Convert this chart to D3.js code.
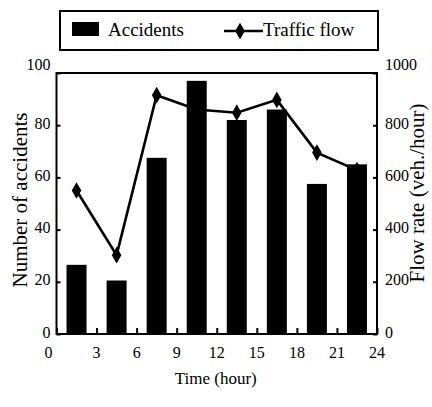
<!DOCTYPE html>
<html>
<head>
<meta charset="utf-8">
<script src="https://cdn.jsdelivr.net/npm/d3@7"></script>
<style>
  body { margin: 0; background: #fff; }
  svg text { font-family: "Liberation Serif", "Times New Roman", serif; fill: #000; }
</style>
</head>
<body>
<svg id="chart" width="432" height="407"></svg>
<script>
// data
var hours = [1.5, 4.5, 7.5, 10.5, 13.5, 16.5, 19.5, 22.5];
var accidents = [26.5, 20.5, 67.5, 97, 82, 86, 57.5, 65];
var flow = [550, 302, 915, 860, 848, 897, 695, 628];
var xTicks = [0, 3, 6, 9, 12, 15, 18, 21, 24];
var leftTicks = [0, 20, 40, 60, 80, 100];
var rightTicks = [0, 200, 400, 600, 800, 1000];

var svg = d3.select('#chart');
var plotL = 56.5, plotR = 377, plotT = 73, plotB = 334;

var x = d3.scaleLinear().domain([0, 24]).range([plotL, plotR]);
var yL = d3.scaleLinear().domain([0, 100]).range([plotB, plotT]);
var yR = d3.scaleLinear().domain([0, 1000]).range([plotB, plotT]);

// traffic flow line (sits behind the bars)
var line = d3.line()
  .x(function(d, i) { return x(hours[i]); })
  .y(function(d) { return yR(d); });

svg.append('path')
  .datum(flow)
  .attr('d', line)
  .attr('fill', 'none')
  .attr('stroke', '#000')
  .attr('stroke-width', 2.6);

var diamond = d3.symbol().type(d3.symbolDiamond).size(80);
svg.selectAll('path.marker')
  .data(flow)
  .enter().append('path')
  .attr('class', 'marker')
  .attr('d', diamond)
  .attr('transform', function(d, i) { return 'translate(' + x(hours[i]) + ',' + yR(d) + ')'; });

// accident bars
var barW = 20;
svg.selectAll('rect.bar')
  .data(accidents)
  .enter().append('rect')
  .attr('class', 'bar')
  .attr('x', function(d, i) { return x(hours[i]) - barW / 2; })
  .attr('y', function(d) { return yL(d); })
  .attr('width', barW)
  .attr('height', function(d) { return plotB - yL(d); })
  .attr('fill', '#000');

// axes, ticks inward
var axisLeft = d3.axisRight(yL).tickValues(leftTicks).tickSize(4).tickFormat('');
var axisRight = d3.axisLeft(yR).tickValues(rightTicks).tickSize(4).tickFormat('');
var axisBottom = d3.axisTop(x).tickValues(xTicks).tickSize(6).tickFormat('');

function styleAxis(g) {
  g.select('.domain').remove();
  g.selectAll('.tick line').attr('stroke', '#000').attr('stroke-width', 2);
}
svg.append('g').attr('transform', 'translate(' + plotL + ',0)').call(axisLeft).call(styleAxis);
svg.append('g').attr('transform', 'translate(' + plotR + ',0)').call(axisRight).call(styleAxis);
svg.append('g').attr('transform', 'translate(0,' + plotB + ')').call(axisBottom).call(styleAxis);

// frame
svg.append('rect')
  .attr('x', plotL).attr('y', plotT)
  .attr('width', plotR - plotL).attr('height', plotB - plotT)
  .attr('fill', 'none').attr('stroke', '#000').attr('stroke-width', 2);

// tick labels
svg.selectAll('text.yl')
  .data(leftTicks)
  .enter().append('text')
  .attr('x', plotL - 6)
  .attr('y', function(d) { return yL(d) + (d === 100 ? -9 : -2); })
  .attr('dy', '0.35em')
  .attr('text-anchor', 'end')
  .attr('font-size', 16)
  .text(function(d) { return d; });

svg.selectAll('text.yr')
  .data(rightTicks)
  .enter().append('text')
  .attr('x', plotR + 8)
  .attr('y', function(d) { return yR(d) + (d === 1000 ? -9 : -2); })
  .attr('dy', '0.35em')
  .attr('font-size', 16)
  .text(function(d) { return d; });

svg.selectAll('text.xl')
  .data(xTicks)
  .enter().append('text')
  .attr('x', function(d) { return x(d) + (d === 0 ? -8 : 0); })
  .attr('y', plotB + 18)
  .attr('dy', '0.35em')
  .attr('text-anchor', 'middle')
  .attr('font-size', 16)
  .text(function(d) { return d; });

// axis titles
svg.append('text')
  .attr('x', (plotL + plotR) / 2 - 1)
  .attr('y', 384)
  .attr('text-anchor', 'middle')
  .attr('font-size', 17)
  .text('Time (hour)');

svg.append('text')
  .attr('transform', 'translate(27,200) rotate(-90)')
  .attr('text-anchor', 'middle')
  .attr('font-size', 21)
  .text('Number of accidents');

svg.append('text')
  .attr('transform', 'translate(424,193) rotate(-90)')
  .attr('text-anchor', 'middle')
  .attr('font-size', 21)
  .text('Flow rate (veh./hour)');

// legend
var lg = svg.append('g');
lg.append('rect')
  .attr('x', 60).attr('y', 11).attr('width', 318).attr('height', 39)
  .attr('fill', '#fff').attr('stroke', '#000').attr('stroke-width', 2);
lg.append('rect')
  .attr('x', 72).attr('y', 22).attr('width', 27).attr('height', 14).attr('fill', '#000');
lg.append('text').attr('x', 108).attr('y', 36).attr('font-size', 19).text('Accidents');
lg.append('line')
  .attr('x1', 224).attr('x2', 263).attr('y1', 31).attr('y2', 31)
  .attr('stroke', '#000').attr('stroke-width', 2.6);
lg.append('path').attr('d', diamond).attr('transform', 'translate(240,31)');
lg.append('text').attr('x', 263).attr('y', 36).attr('font-size', 19).text('Traffic flow');
</script>
</body>
</html>
